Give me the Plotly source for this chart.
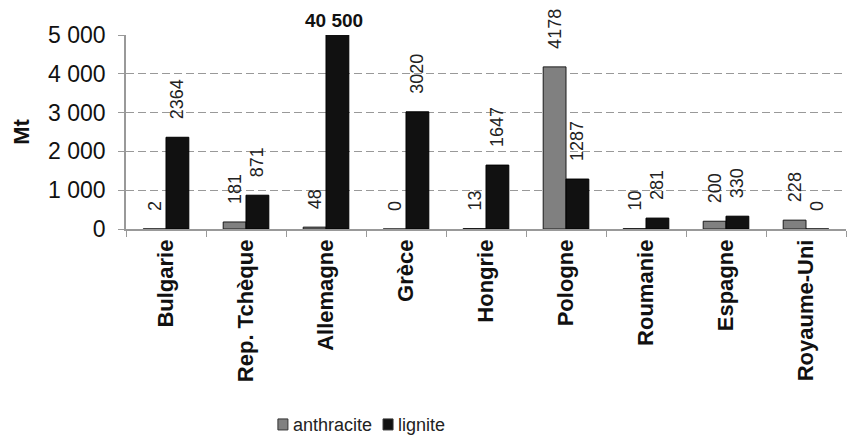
import plotly.graph_objects as go

countries = ["Bulgarie", "Rep. Tchèque", "Allemagne", "Grèce", "Hongrie",
             "Pologne", "Roumanie", "Espagne", "Royaume-Uni"]
anthracite = [2, 181, 48, 0, 13, 4178, 10, 200, 228]
lignite = [2364, 871, 40500, 3020, 1647, 1287, 281, 330, 0]
y_ticks = [0, 1000, 2000, 3000, 4000, 5000]
y_tick_labels = ["0", "1 000", "2 000", "3 000", "4 000", "5 000"]
y_max = 5000

FONT = "Liberation Sans, Arial, sans-serif"
COL_A = "#808080"
COL_L = "#111111"

lig_text = [str(v) if v <= y_max else "" for v in lignite]

fig = go.Figure()
fig.add_trace(go.Bar(
    name="anthracite", x=countries, y=anthracite,
    marker=dict(color=COL_A, line=dict(color="#1a1a1a", width=1)),
    text=[str(v) for v in anthracite], texttemplate="   %{text}",
    textposition="outside", textangle=-90, constraintext="none",
    textfont=dict(family=FONT, size=18, color="#222"),
    cliponaxis=False, showlegend=False,
))
fig.add_trace(go.Bar(
    name="lignite", x=countries, y=lignite,
    marker=dict(color=COL_L, line=dict(color="#000", width=1)),
    text=lig_text, texttemplate="   %{text}",
    textposition="outside", textangle=-90, constraintext="none",
    textfont=dict(family=FONT, size=18, color="#222"),
    cliponaxis=True, showlegend=False,
))

# clipped bar value label
for c, v in zip(countries, lignite):
    if v > y_max:
        fig.add_annotation(
            x=c, y=y_max, xref="x", yref="y", xshift=8, yshift=2,
            text=f"<b>{v:,}</b>".replace(",", " "), showarrow=False,
            yanchor="bottom", font=dict(family=FONT, size=19, color="#111"),
        )

# legend (bottom)
leg_y = -1.01
items = [("anthracite", COL_A, 0.211), ("lignite", COL_L, 0.357)]
for name, col, x0 in items:
    fig.add_shape(type="rect", xref="paper", yref="paper",
                  x0=x0, x1=x0 + 10 / 720, y0=leg_y - 5 / 194, y1=leg_y + 6 / 194,
                  fillcolor=col, line=dict(color="#333", width=1))
    fig.add_annotation(x=x0 + 14 / 720, y=leg_y, xref="paper", yref="paper",
                       text=name, showarrow=False, xanchor="left", yanchor="middle",
                       xshift=-1, font=dict(family=FONT, size=18, color="#222"))

fig.update_layout(
    width=847, height=438,
    margin=dict(l=126, r=1, t=35, b=209, autoexpand=False),
    paper_bgcolor="white", plot_bgcolor="white",
    barmode="group", bargap=0.43, bargroupgap=0,
    font=dict(family=FONT, color="#111"),
    showlegend=False,
)
fig.update_xaxes(
    showline=True, linecolor="#999", linewidth=1.5,
    ticks="outside", tickson="boundaries", ticklen=6, tickcolor="#999",
    tickangle=-90, tickfont=dict(family=FONT, size=22, color="#111"),
    showgrid=False,
    ticktext=[f"<b>{c}</b>" for c in countries], tickvals=countries,
)
fig.update_yaxes(
    range=[0, y_max], tickvals=y_ticks, ticktext=y_tick_labels,
    showline=True, linecolor="#999", linewidth=1.5,
    ticks="outside", ticklen=6, tickcolor="#999", ticklabelstandoff=8,
    tickfont=dict(family=FONT, size=23, color="#111"),
    showgrid=True, gridcolor="#999", griddash="8px,4px", gridwidth=1,
    zeroline=False,
    title=dict(text="<b>Mt</b>", font=dict(family=FONT, size=22, color="#111"), standoff=12),
)

fig.write_html("out.html")
